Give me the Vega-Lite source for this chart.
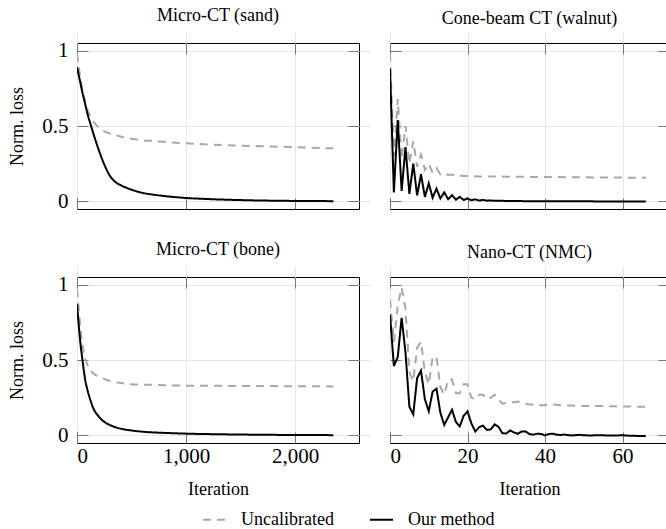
{
  "$schema": "https://vega.github.io/schema/vega-lite/v6.json",
  "background": "white",
  "padding": {"left": 8, "top": 6, "right": 0, "bottom": 0},
  "config": {
    "font": "Liberation Serif, Times New Roman, DejaVu Serif, serif",
    "view": {"stroke": "black", "strokeWidth": 1},
    "axis": {
      "domain": false,
      "tickColor": "#777777",
      "tickWidth": 1,
      "tickSize": 11,
      "offset": -11,
      "gridColor": "#e6e6e6",
      "gridWidth": 1,
      "labelFont": "Liberation Serif, Times New Roman, DejaVu Serif, serif",
      "labelFontSize": 21,
      "labelColor": "black",
      "titleFont": "Liberation Serif, Times New Roman, DejaVu Serif, serif",
      "titleFontSize": 18,
      "titleFontWeight": "normal",
      "titleColor": "black"
    },
    "title": {"font": "Liberation Serif, Times New Roman, DejaVu Serif, serif", "fontSize": 18, "fontWeight": "normal", "color": "black", "offset": 15}
  },
  "datasets": {
    "sand": [
      {"iter": 0, "Uncalibrated": 0.98, "Our method": 0.89},
      {"iter": 15, "Uncalibrated": 0.90, "Our method": 0.84},
      {"iter": 30, "Uncalibrated": 0.82, "Our method": 0.79},
      {"iter": 50, "Uncalibrated": 0.74, "Our method": 0.72},
      {"iter": 75, "Uncalibrated": 0.66, "Our method": 0.645},
      {"iter": 100, "Uncalibrated": 0.60, "Our method": 0.57},
      {"iter": 125, "Uncalibrated": 0.56, "Our method": 0.51},
      {"iter": 150, "Uncalibrated": 0.53, "Our method": 0.45},
      {"iter": 200, "Uncalibrated": 0.49, "Our method": 0.34},
      {"iter": 250, "Uncalibrated": 0.465, "Our method": 0.245},
      {"iter": 300, "Uncalibrated": 0.45, "Our method": 0.172},
      {"iter": 350, "Uncalibrated": 0.44, "Our method": 0.13},
      {"iter": 400, "Uncalibrated": 0.43, "Our method": 0.108},
      {"iter": 450, "Uncalibrated": 0.42, "Our method": 0.092},
      {"iter": 500, "Uncalibrated": 0.415, "Our method": 0.078},
      {"iter": 600, "Uncalibrated": 0.405, "Our method": 0.057},
      {"iter": 700, "Uncalibrated": 0.40, "Our method": 0.045},
      {"iter": 800, "Uncalibrated": 0.395, "Our method": 0.036},
      {"iter": 1000, "Uncalibrated": 0.385, "Our method": 0.023},
      {"iter": 1200, "Uncalibrated": 0.378, "Our method": 0.016},
      {"iter": 1500, "Uncalibrated": 0.37, "Our method": 0.009},
      {"iter": 1800, "Uncalibrated": 0.364, "Our method": 0.005},
      {"iter": 2100, "Uncalibrated": 0.357, "Our method": 0.003},
      {"iter": 2350, "Uncalibrated": 0.352, "Our method": 0.002}
    ],
    "bone": [
      {"iter": 0, "Uncalibrated": 0.97, "Our method": 0.87},
      {"iter": 15, "Uncalibrated": 0.85, "Our method": 0.74},
      {"iter": 30, "Uncalibrated": 0.72, "Our method": 0.62},
      {"iter": 50, "Uncalibrated": 0.60, "Our method": 0.50},
      {"iter": 75, "Uncalibrated": 0.51, "Our method": 0.37},
      {"iter": 100, "Uncalibrated": 0.46, "Our method": 0.29},
      {"iter": 125, "Uncalibrated": 0.43, "Our method": 0.23},
      {"iter": 150, "Uncalibrated": 0.41, "Our method": 0.18},
      {"iter": 200, "Uncalibrated": 0.39, "Our method": 0.125},
      {"iter": 250, "Uncalibrated": 0.375, "Our method": 0.09},
      {"iter": 300, "Uncalibrated": 0.362, "Our method": 0.07},
      {"iter": 350, "Uncalibrated": 0.353, "Our method": 0.055},
      {"iter": 400, "Uncalibrated": 0.347, "Our method": 0.045},
      {"iter": 450, "Uncalibrated": 0.343, "Our method": 0.038},
      {"iter": 500, "Uncalibrated": 0.34, "Our method": 0.033},
      {"iter": 600, "Uncalibrated": 0.337, "Our method": 0.025},
      {"iter": 700, "Uncalibrated": 0.335, "Our method": 0.02},
      {"iter": 800, "Uncalibrated": 0.333, "Our method": 0.017},
      {"iter": 1000, "Uncalibrated": 0.33, "Our method": 0.012},
      {"iter": 1200, "Uncalibrated": 0.329, "Our method": 0.009},
      {"iter": 1500, "Uncalibrated": 0.328, "Our method": 0.006},
      {"iter": 1800, "Uncalibrated": 0.327, "Our method": 0.004},
      {"iter": 2100, "Uncalibrated": 0.326, "Our method": 0.003},
      {"iter": 2350, "Uncalibrated": 0.325, "Our method": 0.002}
    ],
    "walnut": [
      {"iter": 0, "Uncalibrated": 0.98, "Our method": 0.88},
      {"iter": 1, "Uncalibrated": 0.30, "Our method": 0.06},
      {"iter": 2, "Uncalibrated": 0.68, "Our method": 0.54},
      {"iter": 3, "Uncalibrated": 0.28, "Our method": 0.07},
      {"iter": 4, "Uncalibrated": 0.50, "Our method": 0.36},
      {"iter": 5, "Uncalibrated": 0.25, "Our method": 0.05},
      {"iter": 6, "Uncalibrated": 0.40, "Our method": 0.25},
      {"iter": 7, "Uncalibrated": 0.23, "Our method": 0.04},
      {"iter": 8, "Uncalibrated": 0.31, "Our method": 0.18},
      {"iter": 9, "Uncalibrated": 0.21, "Our method": 0.03},
      {"iter": 10, "Uncalibrated": 0.25, "Our method": 0.12},
      {"iter": 11, "Uncalibrated": 0.19, "Our method": 0.025},
      {"iter": 12, "Uncalibrated": 0.22, "Our method": 0.085},
      {"iter": 13, "Uncalibrated": 0.18, "Our method": 0.02},
      {"iter": 14, "Uncalibrated": 0.19, "Our method": 0.06},
      {"iter": 15, "Uncalibrated": 0.175, "Our method": 0.015},
      {"iter": 16, "Uncalibrated": 0.178, "Our method": 0.042},
      {"iter": 17, "Uncalibrated": 0.17, "Our method": 0.012},
      {"iter": 18, "Uncalibrated": 0.172, "Our method": 0.03},
      {"iter": 19, "Uncalibrated": 0.168, "Our method": 0.01},
      {"iter": 20, "Uncalibrated": 0.168, "Our method": 0.02},
      {"iter": 21, "Uncalibrated": 0.167, "Our method": 0.008},
      {"iter": 22, "Uncalibrated": 0.167, "Our method": 0.014},
      {"iter": 23, "Uncalibrated": 0.166, "Our method": 0.006},
      {"iter": 24, "Uncalibrated": 0.166, "Our method": 0.01},
      {"iter": 25, "Uncalibrated": 0.166, "Our method": 0.005},
      {"iter": 26, "Uncalibrated": 0.165, "Our method": 0.007},
      {"iter": 27, "Uncalibrated": 0.165, "Our method": 0.004},
      {"iter": 28, "Uncalibrated": 0.165, "Our method": 0.005},
      {"iter": 30, "Uncalibrated": 0.164, "Our method": 0.003},
      {"iter": 35, "Uncalibrated": 0.163, "Our method": 0.002},
      {"iter": 40, "Uncalibrated": 0.162, "Our method": 0.002},
      {"iter": 45, "Uncalibrated": 0.161, "Our method": 0.001},
      {"iter": 50, "Uncalibrated": 0.160, "Our method": 0.001},
      {"iter": 55, "Uncalibrated": 0.159, "Our method": 0.0},
      {"iter": 60, "Uncalibrated": 0.158, "Our method": 0.0},
      {"iter": 66, "Uncalibrated": 0.157, "Our method": 0.0}
    ],
    "nmc": [
      {"iter": 0, "Uncalibrated": 0.90, "Our method": 0.80},
      {"iter": 1, "Uncalibrated": 0.62, "Our method": 0.46},
      {"iter": 2, "Uncalibrated": 0.86, "Our method": 0.52},
      {"iter": 3, "Uncalibrated": 0.98, "Our method": 0.78},
      {"iter": 4, "Uncalibrated": 0.84, "Our method": 0.55},
      {"iter": 5, "Uncalibrated": 0.42, "Our method": 0.19},
      {"iter": 6, "Uncalibrated": 0.36, "Our method": 0.14},
      {"iter": 7, "Uncalibrated": 0.58, "Our method": 0.38},
      {"iter": 8, "Uncalibrated": 0.62, "Our method": 0.43},
      {"iter": 9, "Uncalibrated": 0.42, "Our method": 0.24},
      {"iter": 10, "Uncalibrated": 0.34, "Our method": 0.16},
      {"iter": 11, "Uncalibrated": 0.52, "Our method": 0.29},
      {"iter": 12, "Uncalibrated": 0.52, "Our method": 0.31},
      {"iter": 13, "Uncalibrated": 0.32, "Our method": 0.15},
      {"iter": 14, "Uncalibrated": 0.27, "Our method": 0.07},
      {"iter": 15, "Uncalibrated": 0.37, "Our method": 0.12},
      {"iter": 16, "Uncalibrated": 0.37, "Our method": 0.17},
      {"iter": 17, "Uncalibrated": 0.28, "Our method": 0.09},
      {"iter": 18, "Uncalibrated": 0.28, "Our method": 0.06},
      {"iter": 19, "Uncalibrated": 0.34, "Our method": 0.13},
      {"iter": 20, "Uncalibrated": 0.34, "Our method": 0.16},
      {"iter": 21, "Uncalibrated": 0.25, "Our method": 0.08},
      {"iter": 22, "Uncalibrated": 0.24, "Our method": 0.026},
      {"iter": 23, "Uncalibrated": 0.27, "Our method": 0.055},
      {"iter": 24, "Uncalibrated": 0.27, "Our method": 0.065},
      {"iter": 25, "Uncalibrated": 0.24, "Our method": 0.037},
      {"iter": 26, "Uncalibrated": 0.25, "Our method": 0.04},
      {"iter": 27, "Uncalibrated": 0.27, "Our method": 0.073},
      {"iter": 28, "Uncalibrated": 0.24, "Our method": 0.057},
      {"iter": 29, "Uncalibrated": 0.21, "Our method": 0.015},
      {"iter": 30, "Uncalibrated": 0.215, "Our method": 0.013},
      {"iter": 31, "Uncalibrated": 0.22, "Our method": 0.033},
      {"iter": 32, "Uncalibrated": 0.22, "Our method": 0.02},
      {"iter": 33, "Uncalibrated": 0.225, "Our method": 0.011},
      {"iter": 34, "Uncalibrated": 0.215, "Our method": 0.026},
      {"iter": 35, "Uncalibrated": 0.21, "Our method": 0.026},
      {"iter": 36, "Uncalibrated": 0.205, "Our method": 0.009},
      {"iter": 37, "Uncalibrated": 0.205, "Our method": 0.005},
      {"iter": 38, "Uncalibrated": 0.20, "Our method": 0.012},
      {"iter": 39, "Uncalibrated": 0.20, "Our method": 0.01},
      {"iter": 40, "Uncalibrated": 0.20, "Our method": 0.0},
      {"iter": 41, "Uncalibrated": 0.205, "Our method": 0.01},
      {"iter": 42, "Uncalibrated": 0.205, "Our method": 0.011},
      {"iter": 43, "Uncalibrated": 0.203, "Our method": 0.005},
      {"iter": 44, "Uncalibrated": 0.20, "Our method": 0.003},
      {"iter": 45, "Uncalibrated": 0.20, "Our method": 0.006},
      {"iter": 46, "Uncalibrated": 0.198, "Our method": 0.002},
      {"iter": 47, "Uncalibrated": 0.198, "Our method": 0.0},
      {"iter": 48, "Uncalibrated": 0.197, "Our method": 0.002},
      {"iter": 49, "Uncalibrated": 0.197, "Our method": 0.004},
      {"iter": 50, "Uncalibrated": 0.196, "Our method": 0.001},
      {"iter": 52, "Uncalibrated": 0.196, "Our method": 0.0},
      {"iter": 54, "Uncalibrated": 0.195, "Our method": 0.002},
      {"iter": 56, "Uncalibrated": 0.194, "Our method": 0.0},
      {"iter": 58, "Uncalibrated": 0.193, "Our method": 0.0},
      {"iter": 60, "Uncalibrated": 0.192, "Our method": 0.001},
      {"iter": 62, "Uncalibrated": 0.192, "Our method": -0.002},
      {"iter": 64, "Uncalibrated": 0.191, "Our method": -0.003},
      {"iter": 66, "Uncalibrated": 0.19, "Our method": -0.004}
    ]
  },
  "resolve": {"scale": {"color": "shared", "strokeDash": "shared"}},
  "spacing": 28,
  "vconcat": [
    {
      "spacing": 26,
      "hconcat": [
        {
          "title": "Micro-CT (sand)",
          "width": 282, "height": 166,
          "data": {"name": "sand"},
          "transform": [{"fold": ["Uncalibrated", "Our method"], "as": ["method", "loss"]}],
          "resolve": {"axis": {"x": "independent", "y": "independent"}},
          "layer": [
            {
              "mark": {"type": "line", "strokeWidth": 2, "interpolate": "monotone", "clip": true},
              "encoding": {
                "x": {"field": "iter", "type": "quantitative", "scale": {"domain": [0, 2585], "nice": false, "zero": false},
                      "axis": {"orient": "bottom", "values": [0, 1000, 2000], "labels": false, "grid": true, "title": null}},
                "y": {"field": "loss", "type": "quantitative", "scale": {"domain": [-0.05, 1.05], "nice": false, "zero": false},
                      "axis": {"orient": "left", "values": [0, 0.5, 1], "labelExpr": "format(datum.value, '~g')", "grid": true, "title": "Norm. loss", "labelPadding": 9, "titlePadding": 15}},
                "color": {"field": "method", "type": "nominal", "scale": {"domain": ["Uncalibrated", "Our method"], "range": ["#a8a8a8", "#000000"]},
                          "legend": {"orient": "none", "legendX": 125, "legendY": 464, "direction": "horizontal", "title": null, "symbolType": "stroke", "symbolSize": 529, "symbolStrokeWidth": 2, "labelFont": "Liberation Serif, Times New Roman, DejaVu Serif, serif", "labelFontSize": 18, "labelColor": "black", "labelOffset": 14, "columnPadding": 32}},
                "strokeDash": {"field": "method", "type": "nominal", "scale": {"domain": ["Uncalibrated", "Our method"], "range": [[8, 6], [1, 0]]},
                          "legend": {"orient": "none", "legendX": 125, "legendY": 464, "direction": "horizontal", "title": null, "symbolType": "stroke", "symbolSize": 529, "symbolStrokeWidth": 2, "labelFont": "Liberation Serif, Times New Roman, DejaVu Serif, serif", "labelFontSize": 18, "labelColor": "black", "labelOffset": 14, "columnPadding": 32}}
              }
            },
            {
              "mark": {"type": "point", "opacity": 0},
              "encoding": {
                "x": {"field": "iter", "type": "quantitative", "axis": {"orient": "top", "values": [0, 1000, 2000], "labels": false, "grid": false, "title": null}},
                "y": {"field": "loss", "type": "quantitative", "axis": {"orient": "right", "values": [0, 0.5, 1], "labels": false, "grid": false, "title": null}}
              }
            }
          ]
        },
        {
          "title": "Cone-beam CT (walnut)",
          "width": 279, "height": 166,
          "data": {"name": "walnut"},
          "transform": [{"fold": ["Uncalibrated", "Our method"], "as": ["method", "loss"]}],
          "resolve": {"axis": {"x": "independent", "y": "independent"}},
          "layer": [
            {
              "mark": {"type": "line", "strokeWidth": 2, "clip": true},
              "encoding": {
                "x": {"field": "iter", "type": "quantitative", "scale": {"domain": [0, 72], "nice": false, "zero": false},
                      "axis": {"orient": "bottom", "values": [0, 20, 40, 60], "labels": false, "grid": true, "title": null}},
                "y": {"field": "loss", "type": "quantitative", "scale": {"domain": [-0.05, 1.05], "nice": false, "zero": false},
                      "axis": {"orient": "left", "values": [0, 0.5, 1], "labels": false, "grid": true, "title": null}},
                "color": {"field": "method", "type": "nominal", "scale": {"domain": ["Uncalibrated", "Our method"], "range": ["#a8a8a8", "#000000"]}},
                "strokeDash": {"field": "method", "type": "nominal", "scale": {"domain": ["Uncalibrated", "Our method"], "range": [[8, 6], [1, 0]]}}
              }
            },
            {
              "mark": {"type": "point", "opacity": 0},
              "encoding": {
                "x": {"field": "iter", "type": "quantitative", "axis": {"orient": "top", "values": [0, 20, 40, 60], "labels": false, "grid": false, "title": null}},
                "y": {"field": "loss", "type": "quantitative", "axis": {"orient": "right", "values": [0, 0.5, 1], "labels": false, "grid": false, "title": null}}
              }
            }
          ]
        }
      ]
    },
    {
      "spacing": 26,
      "hconcat": [
        {
          "title": "Micro-CT (bone)",
          "width": 282, "height": 166,
          "data": {"name": "bone"},
          "transform": [{"fold": ["Uncalibrated", "Our method"], "as": ["method", "loss"]}],
          "resolve": {"axis": {"x": "independent", "y": "independent"}},
          "layer": [
            {
              "mark": {"type": "line", "strokeWidth": 2, "interpolate": "monotone", "clip": true},
              "encoding": {
                "x": {"field": "iter", "type": "quantitative", "scale": {"domain": [0, 2585], "nice": false, "zero": false},
                      "axis": {"orient": "bottom", "values": [0, 1000, 2000], "labelExpr": "format(datum.value, ',')", "grid": true, "title": "Iteration", "labelPadding": 2, "titlePadding": 14}},
                "y": {"field": "loss", "type": "quantitative", "scale": {"domain": [-0.05, 1.05], "nice": false, "zero": false},
                      "axis": {"orient": "left", "values": [0, 0.5, 1], "labelExpr": "format(datum.value, '~g')", "grid": true, "title": "Norm. loss", "labelPadding": 9, "titlePadding": 15}},
                "color": {"field": "method", "type": "nominal", "scale": {"domain": ["Uncalibrated", "Our method"], "range": ["#a8a8a8", "#000000"]}},
                "strokeDash": {"field": "method", "type": "nominal", "scale": {"domain": ["Uncalibrated", "Our method"], "range": [[8, 6], [1, 0]]}}
              }
            },
            {
              "mark": {"type": "point", "opacity": 0},
              "encoding": {
                "x": {"field": "iter", "type": "quantitative", "axis": {"orient": "top", "values": [0, 1000, 2000], "labels": false, "grid": false, "title": null}},
                "y": {"field": "loss", "type": "quantitative", "axis": {"orient": "right", "values": [0, 0.5, 1], "labels": false, "grid": false, "title": null}}
              }
            }
          ]
        },
        {
          "title": "Nano-CT (NMC)",
          "width": 279, "height": 166,
          "data": {"name": "nmc"},
          "transform": [{"fold": ["Uncalibrated", "Our method"], "as": ["method", "loss"]}],
          "resolve": {"axis": {"x": "independent", "y": "independent"}},
          "layer": [
            {
              "mark": {"type": "line", "strokeWidth": 2, "clip": true},
              "encoding": {
                "x": {"field": "iter", "type": "quantitative", "scale": {"domain": [0, 72], "nice": false, "zero": false},
                      "axis": {"orient": "bottom", "values": [0, 20, 40, 60], "grid": true, "title": "Iteration", "labelPadding": 2, "titlePadding": 14}},
                "y": {"field": "loss", "type": "quantitative", "scale": {"domain": [-0.05, 1.05], "nice": false, "zero": false},
                      "axis": {"orient": "left", "values": [0, 0.5, 1], "labels": false, "grid": true, "title": null}},
                "color": {"field": "method", "type": "nominal", "scale": {"domain": ["Uncalibrated", "Our method"], "range": ["#a8a8a8", "#000000"]}},
                "strokeDash": {"field": "method", "type": "nominal", "scale": {"domain": ["Uncalibrated", "Our method"], "range": [[8, 6], [1, 0]]}}
              }
            },
            {
              "mark": {"type": "point", "opacity": 0},
              "encoding": {
                "x": {"field": "iter", "type": "quantitative", "axis": {"orient": "top", "values": [0, 20, 40, 60], "labels": false, "grid": false, "title": null}},
                "y": {"field": "loss", "type": "quantitative", "axis": {"orient": "right", "values": [0, 0.5, 1], "labels": false, "grid": false, "title": null}}
              }
            }
          ]
        }
      ]
    }
  ]
}
